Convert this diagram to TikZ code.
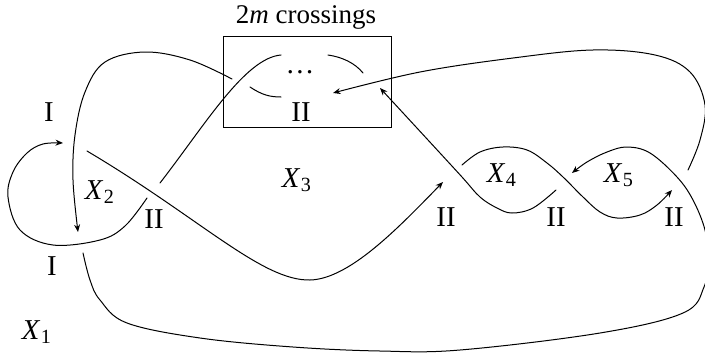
\documentclass[tikz,border=0pt]{standalone}
\usepackage{fontspec}
\setmainfont{Liberation Serif}
\usetikzlibrary{arrows.meta}
\tikzset{
  strand/.style={line width=0.4pt, line cap=round},
  strandarr/.style={strand, -{Stealth[length=3pt,width=2.4pt]}},
  crossbox/.style={draw, line width=0.4pt, inner sep=0pt,
                   minimum width=67.2pt, minimum height=36.4pt},
  lbl/.style={font=\fontsize{11.5}{13}\selectfont, inner sep=0pt},
}
\newcommand{\region}[1]{\textit{X}\kern0.02em\textsubscript{#1}}

\begin{document}
\begin{tikzpicture}[x=0.4pt, y=-0.4pt]
\useasboundingbox (0,0) rectangle (705,353);

% ── Box of twists ─────────────────────────────────────────────────────────
\node[crossbox] (BOX) at (307,81.5) {};
\node[lbl, font=\fontsize{10.8}{12}\selectfont] (TITLE) at (306,17) {2\textit{m} crossings};
\node[lbl] (DOTS)  at (300,72) {\dots};
\node[lbl] (BII)   at (301,112) {II};

% ── Region and move labels ────────────────────────────────────────────────
\node[lbl] (X1) at (37,332) {\region{1}};
\node[lbl] (X2) at (100,192) {\region{2}};
\node[lbl] (X3) at (297,180) {\region{3}};
\node[lbl] (X4) at (502,175) {\region{4}};
\node[lbl] (X5) at (619,175) {\region{5}};
\node[lbl] (IA) at (49,112) {I};
\node[lbl] (IB) at (52,266) {I};
\node[lbl] (IIA) at (154,219) {II};
\node[lbl] (IIB) at (446,217) {II};
\node[lbl] (IIC) at (556,217) {II};
\node[lbl] (IID) at (674,217) {II};

% ── Strands ───────────────────────────────────────────────────────────────
% top-left arc, down to the kink
\draw[strandarr] plot[smooth, tension=0.6] coordinates
  {(232,79) (190,60) (145,52) (105,62) (85,92) (75,135) (73,180) (78,232)};
% its tail inside the box
\draw[strand] (250,87) .. controls (262,95) and (270,97) .. (281,97);
% strand from the loop up into the box
\draw[strand] (160,183) .. controls (205,125) and (245,58) .. (281,55);
% right tail inside the box
\draw[strand] (328,55) .. controls (342,57) and (355,63) .. (363,73);

% the kink loop
\draw[strandarr] plot[smooth, tension=0.6] coordinates
  {(147,198) (125,226) (100,240) (53,245) (20,230) (8,197) (13,172) (27,153) (43,144) (63,143)};

% long strand under X_3
\draw[strandarr] (87,151) .. controls (200,218) and (262,281) .. (310,280)
  .. controls (350,279) and (400,226) .. (443,182);

% strand rising into the box from X_4
\draw[strandarr] plot[smooth, tension=0.6] coordinates
  {(556,190) (533,208) (512,213) (497,208) (480,197) (462,177) (428,140) (380,88)};

% upper arc over X_4, lower arc under X_5
\draw[strandarr] plot[smooth, tension=0.6] coordinates
  {(462,165) (480,152) (503,147) (527,150) (547,163) (563,177) (583,197) (600,212) (617,218) (640,215) (657,205) (672,190)};

% big outer loop: from the bottom up over X_5
\draw[strandarr] plot[smooth, tension=0.6] coordinates
  {(83,253) (90,280) (100,300) (127,323) (200,338) (293,347) (380,351) (460,350) (600,333) (683,313) (704,287) (708,258) (705,230) (693,200) (677,177) (650,153) (627,147) (607,152) (587,162) (572,173)};

% top-right arc back into the box
\draw[strandarr] plot[smooth, tension=0.6] coordinates
  {(688,170) (700,140) (705,105) (690,72) (655,55) (593,50) (513,58) (420,72) (333,93)};

\end{tikzpicture}
\end{document}
